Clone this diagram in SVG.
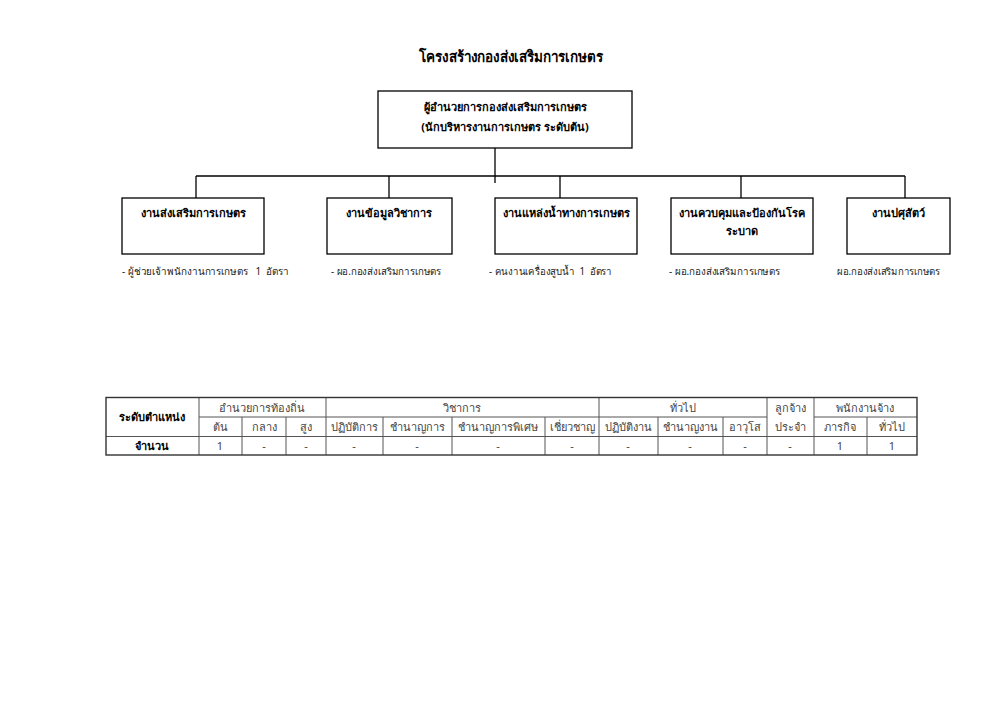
<svg xmlns="http://www.w3.org/2000/svg" width="1000" height="707" viewBox="0 0 1000 707">
<style>
text{font-family:"Noto Sans","DejaVu Sans","Liberation Sans",sans-serif;fill:#000;white-space:pre}
.title{font-size:15px;font-weight:bold}
.bx{font-size:11px;font-weight:bold}
.sub{font-size:10px;fill:#222}
.box{fill:#fff;stroke:#000;stroke-width:1.3}
.ln{stroke:#000;stroke-width:1.3;fill:none}
.tl{stroke:#555;stroke-width:1;fill:none}
.tb{stroke:#333;stroke-width:1.4;fill:none}
.th{font-size:11px;fill:#444}
.thb{font-size:11px;font-weight:bold;fill:#000}
</style>
<rect width="1000" height="707" fill="#fff"/>
<text class="title" x="511" y="62" text-anchor="middle" textLength="184" lengthAdjust="spacingAndGlyphs">โครงสร้างกองส่งเสริมการเกษตร</text>
<g id="connectors">
<line class="ln" x1="495" y1="148" x2="495" y2="183"/>
<line class="ln" x1="196" y1="176" x2="905" y2="176"/>
<line class="ln" x1="196" y1="176" x2="196" y2="198"/>
<line class="ln" x1="389" y1="176" x2="389" y2="198"/>
<line class="ln" x1="560" y1="176" x2="560" y2="198"/>
<line class="ln" x1="741" y1="176" x2="741" y2="198"/>
<line class="ln" x1="905" y1="176" x2="905" y2="198"/>
</g>
<g id="director">
<rect class="box" x="378" y="91" width="254" height="57"/>
<text class="bx" x="505" y="111" text-anchor="middle">ผู้อำนวยการกองส่งเสริมการเกษตร</text>
<text class="bx" x="505" y="131" text-anchor="middle">(นักบริหารงานการเกษตร ระดับต้น)</text>
</g>
<g id="n1">
<rect class="box" x="122" y="198" width="142" height="56"/>
<text class="bx" x="193" y="217" text-anchor="middle">งานส่งเสริมการเกษตร</text>
<text class="sub" x="122" y="275" textLength="167" lengthAdjust="spacingAndGlyphs">- ผู้ช่วยเจ้าพนักงานการเกษตร   1  อัตรา</text>
</g>
<g id="n2">
<rect class="box" x="327" y="198" width="125" height="56"/>
<text class="bx" x="389" y="217" text-anchor="middle">งานข้อมูลวิชาการ</text>
<text class="sub" x="331" y="275" textLength="110" lengthAdjust="spacingAndGlyphs">- ผอ.กองส่งเสริมการเกษตร</text>
</g>
<g id="n3">
<rect class="box" x="495" y="198" width="142" height="56"/>
<text class="bx" x="566" y="217" text-anchor="middle">งานแหล่งน้ำทางการเกษตร</text>
<text class="sub" x="489" y="275" textLength="123" lengthAdjust="spacingAndGlyphs">- คนงานเครื่องสูบน้ำ  1  อัตรา</text>
</g>
<g id="n4">
<rect class="box" x="671" y="198" width="142" height="56"/>
<text class="bx" x="742" y="217" text-anchor="middle">งานควบคุมและป้องกันโรค</text>
<text class="bx" x="742" y="235" text-anchor="middle">ระบาด</text>
<text class="sub" x="669" y="275" textLength="111" lengthAdjust="spacingAndGlyphs">- ผอ.กองส่งเสริมการเกษตร</text>
</g>
<g id="n5">
<rect class="box" x="847" y="198" width="103" height="56"/>
<text class="bx" x="898" y="217" text-anchor="middle">งานปศุสัตว์</text>
<text class="sub" x="837" y="275" textLength="103" lengthAdjust="spacingAndGlyphs">ผอ.กองส่งเสริมการเกษตร</text>
</g>
<g id="table">
<line class="tl" x1="199" y1="417" x2="326" y2="417"/>
<line class="tl" x1="326" y1="417" x2="767" y2="417"/>
<line class="tl" x1="814" y1="417" x2="917" y2="417"/>
<line class="tl" x1="106" y1="436.5" x2="917" y2="436.5"/>
<line class="tl" x1="199" y1="397.5" x2="199" y2="455"/>
<line class="tl" x1="242" y1="417" x2="242" y2="455"/>
<line class="tl" x1="286" y1="417" x2="286" y2="455"/>
<line class="tl" x1="326" y1="397.5" x2="326" y2="455"/>
<line class="tl" x1="383" y1="417" x2="383" y2="455"/>
<line class="tl" x1="452" y1="417" x2="452" y2="455"/>
<line class="tl" x1="545" y1="417" x2="545" y2="455"/>
<line class="tl" x1="599" y1="397.5" x2="599" y2="455"/>
<line class="tl" x1="658" y1="417" x2="658" y2="455"/>
<line class="tl" x1="723" y1="417" x2="723" y2="455"/>
<line class="tl" x1="767" y1="397.5" x2="767" y2="455"/>
<line class="tl" x1="814" y1="397.5" x2="814" y2="455"/>
<line class="tl" x1="867" y1="417" x2="867" y2="455"/>
<rect class="tb" x="106" y="397.5" width="811" height="57.5"/>
<text class="thb" x="152" y="421" text-anchor="middle">ระดับตำแหน่ง</text>
<text class="th" x="262" y="412" text-anchor="middle">อำนวยการท้องถิ่น</text>
<text class="th" x="462" y="412" text-anchor="middle">วิชาการ</text>
<text class="th" x="683" y="412" text-anchor="middle">ทั่วไป</text>
<text class="th" x="790" y="412" text-anchor="middle">ลูกจ้าง</text>
<text class="th" x="865" y="412" text-anchor="middle">พนักงานจ้าง</text>
<text class="th" x="220" y="431" text-anchor="middle">ต้น</text>
<text class="th" x="264" y="431" text-anchor="middle">กลาง</text>
<text class="th" x="306" y="431" text-anchor="middle">สูง</text>
<text class="th" x="354" y="431" text-anchor="middle">ปฏิบัติการ</text>
<text class="th" x="417" y="431" text-anchor="middle">ชำนาญการ</text>
<text class="th" x="498" y="431" text-anchor="middle">ชำนาญการพิเศษ</text>
<text class="th" x="572" y="431" text-anchor="middle">เชี่ยวชาญ</text>
<text class="th" x="628" y="431" text-anchor="middle">ปฏิบัติงาน</text>
<text class="th" x="690" y="431" text-anchor="middle">ชำนาญงาน</text>
<text class="th" x="745" y="431" text-anchor="middle">อาวุโส</text>
<text class="th" x="790" y="431" text-anchor="middle">ประจำ</text>
<text class="th" x="840" y="431" text-anchor="middle">ภารกิจ</text>
<text class="th" x="892" y="431" text-anchor="middle">ทั่วไป</text>
<text class="thb" x="152" y="450" text-anchor="middle">จำนวน</text>
<text class="th" x="220" y="450" text-anchor="middle">1</text>
<text class="th" x="264" y="450" text-anchor="middle">-</text>
<text class="th" x="306" y="450" text-anchor="middle">-</text>
<text class="th" x="354" y="450" text-anchor="middle">-</text>
<text class="th" x="417" y="450" text-anchor="middle">-</text>
<text class="th" x="498" y="450" text-anchor="middle">-</text>
<text class="th" x="572" y="450" text-anchor="middle">-</text>
<text class="th" x="628" y="450" text-anchor="middle">-</text>
<text class="th" x="690" y="450" text-anchor="middle">-</text>
<text class="th" x="745" y="450" text-anchor="middle">-</text>
<text class="th" x="790" y="450" text-anchor="middle">-</text>
<text class="th" x="840" y="450" text-anchor="middle">1</text>
<text class="th" x="892" y="450" text-anchor="middle">1</text>
</g>
</svg>
